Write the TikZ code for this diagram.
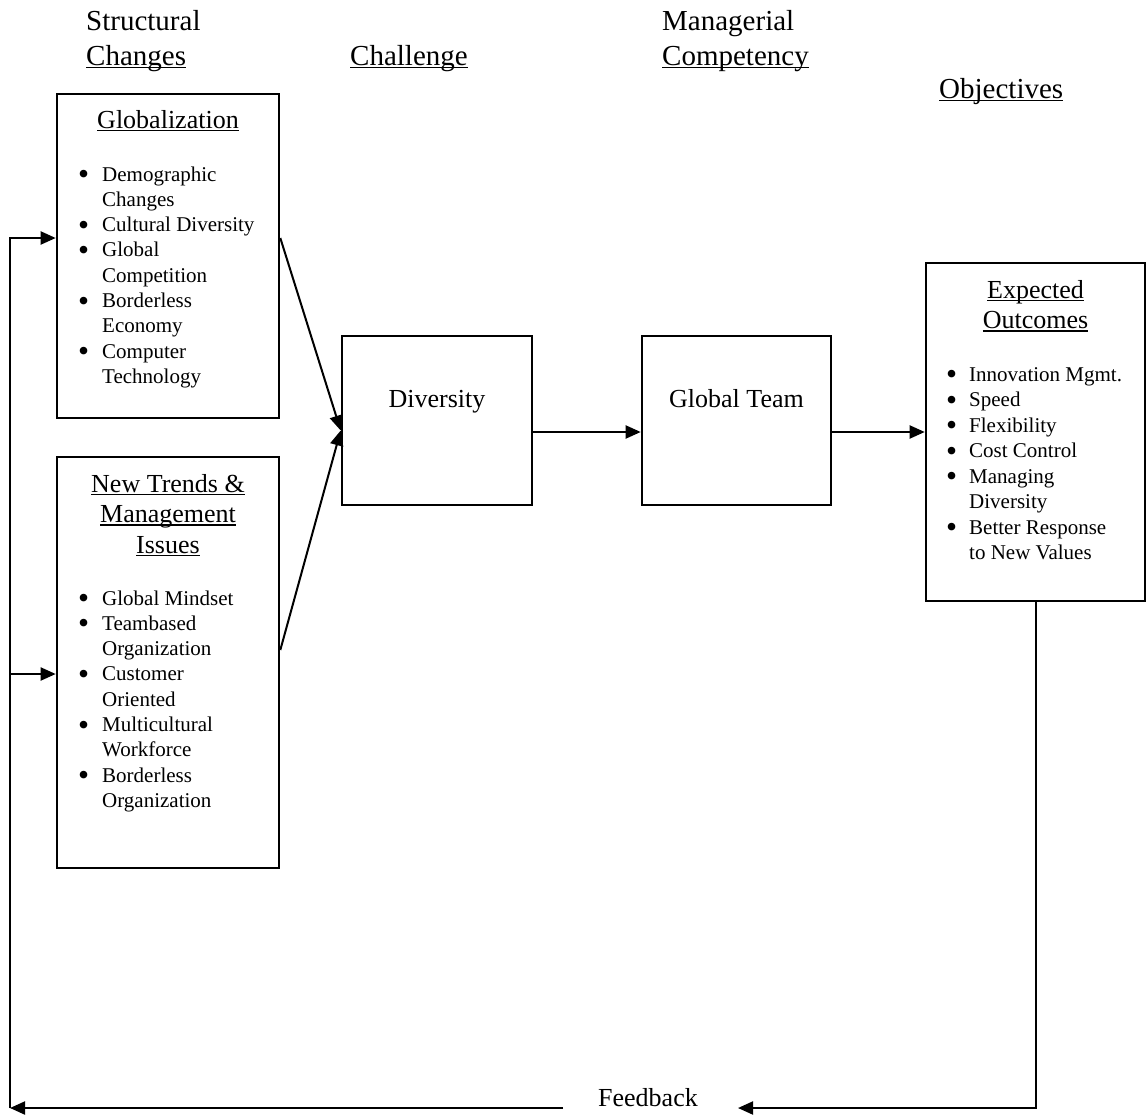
\documentclass[tikz,border=0pt]{standalone}
\usepackage{fontspec}
\setmainfont{Liberation Serif}
\usetikzlibrary{arrows.meta}
\newlength\ulw
\newcommand\ulin[1]{\leavevmode\settowidth{\ulw}{#1}\rlap{\rule[-0.11em]{\ulw}{0.045em}}#1}
\newlength\bulw
\setlength\bulw{24pt}
\newcommand\bul{\leavevmode\makebox[\bulw][l]{\smash{\raisebox{-3.6pt}{\scalebox{1.5}{\textbullet}}}}}
\newcommand\ind{\hspace*{\bulw}}
\begin{document}
\begin{tikzpicture}[x=1pt,y=-1pt,
  box/.style={draw, line width=2.6pt, rectangle, inner sep=0pt},
  head/.style={anchor=base west, inner sep=0pt, font=\fontsize{29}{34}\selectfont},
  ttl/.style={anchor=base, inner sep=0pt, font=\fontsize{26}{30.75}\selectfont},
  lst/.style={anchor=base west, inner sep=0pt, font=\fontsize{21}{25.3}\selectfont},
  arr/.style={line width=2pt, -{Triangle[length=15pt,width=13pt]}}
]
\useasboundingbox (0,0) rectangle (1147,1116);

% boxes
\node[box, minimum width=222pt, minimum height=324pt] (glob) at (168,256) {};
\node[box, minimum width=222pt, minimum height=411pt] (trend) at (168,662.5) {};
\node[box, minimum width=190pt, minimum height=169pt] (div) at (437,420.5) {};
\node[box, minimum width=189pt, minimum height=169pt] (team) at (736.5,420.5) {};
\node[box, minimum width=219pt, minimum height=338pt] (exp) at (1035.5,432) {};

% column headings
\node[head] (hs1) at (86,31) {Structural};
\node[head] (hs2) at (86,65) {\ulin{Changes}};
\node[head] (hc) at (350,65) {\ulin{Challenge}};
\node[head] (hm1) at (662,31) {Managerial};
\node[head] (hm2) at (662,65) {\ulin{Competency}};
\node[head] (ho) at (939,98) {\ulin{Objectives}};

% box titles
\node[ttl] (globt) at (168,128) {\ulin{Globalization}};
\node[ttl] (trendt) at (168,492) {\parbox[t]{220pt}{\centering\ulin{New Trends \&}\\\ulin{Management}\\\ulin{Issues}}};
\node[ttl] (expt) at (1035.5,298) {\parbox[t]{215pt}{\centering\ulin{Expected}\\\ulin{Outcomes}}};
\node[ttl] (divt) at (437,407) {Diversity};
\node[ttl] (teamt) at (736.5,407) {Global Team};

% bullet lists
\node[lst] (globl) at (78,181) {\parbox[t]{200pt}{\raggedright
  \bul Demographic\\\ind Changes\\\bul Cultural Diversity\\\bul Global\\\ind Competition\\\bul Borderless\\\ind Economy\\\bul Computer\\\ind Technology}};
\node[lst] (trendl) at (78,605) {\parbox[t]{200pt}{\raggedright
  \bul Global Mindset\\\bul Teambased\\\ind Organization\\\bul Customer\\\ind Oriented\\\bul Multicultural\\\ind Workforce\\\bul Borderless\\\ind Organization}};
\node[lst, font=\fontsize{21}{25.5}\selectfont] (expl) at (946,381) {\parbox[t]{200pt}{\raggedright\setlength\bulw{23pt}%
  \bul Innovation Mgmt.\\\bul Speed\\\bul Flexibility\\\bul Cost Control\\\bul Managing\\\ind Diversity\\\bul Better Response\\\ind to New Values}};

% connectors
\draw[arr] ([yshift=18pt]glob.east) -- ([yshift=-10pt]div.west);
\draw[arr] ([yshift=12.5pt]trend.east) -- ([yshift=-10pt]div.west);
\draw[arr] ([yshift=-11.5pt]div.east) -- ([yshift=-11.5pt]team.west);
\draw[arr] (team.east |- exp.west) -- (exp.west);

% feedback loop
\node[ttl] (fb) at (648,1106) {Feedback};
\coordinate (fbR) at (738,1108);
\coordinate (fbL) at (563,1108);
\coordinate (corner) at (10,1108);
\coordinate (gin) at ([yshift=18pt]glob.west);
\coordinate (tin) at ([yshift=-11.5pt]trend.west);
\draw[arr] (exp.south) |- (fbR);
\draw[arr] (fbL) -- (corner);
\draw[arr] (corner) |- (gin);
\draw[arr] (corner |- tin) -- (tin);
\end{tikzpicture}
\end{document}
